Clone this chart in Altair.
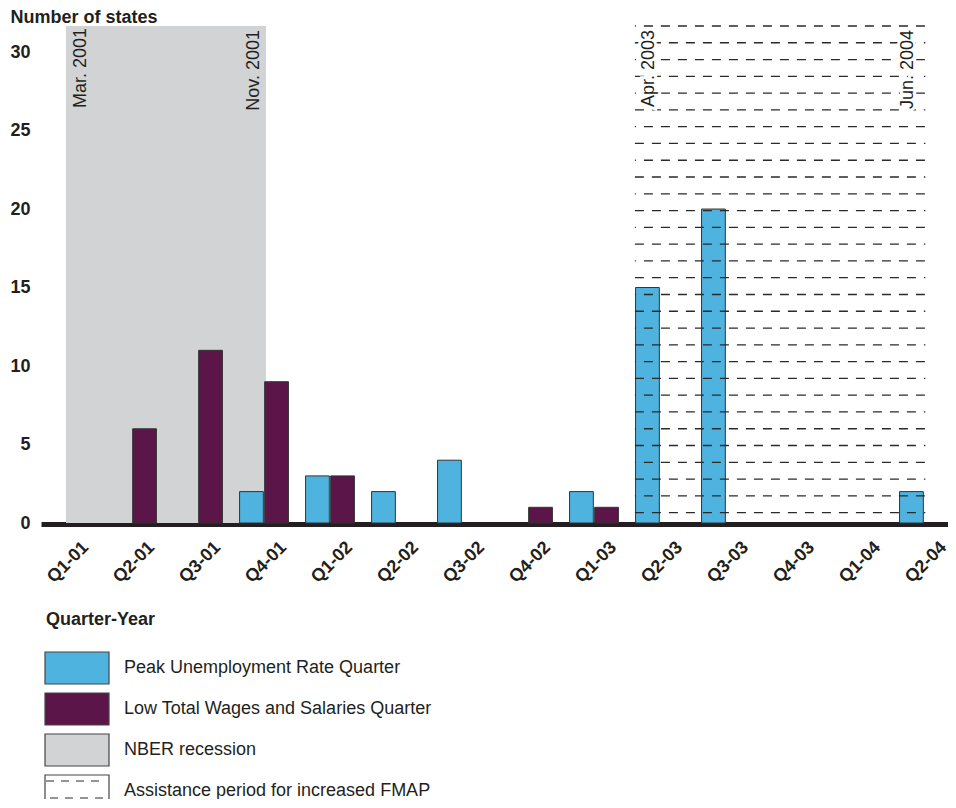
import json
import altair as alt
import pandas as pd

# ---------------- data ----------------
quarters = ["Q1-01", "Q2-01", "Q3-01", "Q4-01", "Q1-02", "Q2-02", "Q3-02",
            "Q4-02", "Q1-03", "Q2-03", "Q3-03", "Q4-03", "Q1-04", "Q2-04"]
peak_unemployment = [0, 0, 0, 2, 3, 2, 4, 0, 2, 15, 20, 0, 0, 2]
low_wages = [0, 6, 11, 9, 3, 0, 0, 1, 1, 0, 0, 0, 0, 0]

series_names = ["Peak Unemployment Rate Quarter", "Low Total Wages and Salaries Quarter"]
series_colors = ["#4fb3e0", "#5b1548"]

# periods in quarter-index units (Q1-01 = 0)
recession_span = [0.0, 3.03]
recession_labels = ["Mar. 2001", "Nov. 2001"]
assistance_span = [8.62, 13.02]
assistance_labels = ["Apr. 2003", "Jun. 2004"]

legend_title = "Quarter-Year"
legend_labels = ["Peak Unemployment Rate Quarter", "Low Total Wages and Salaries Quarter",
                 "NBER recession", "Assistance period for increased FMAP"]
legend_fills = ["#4fb3e0", "#5b1548", "#d1d3d4", "#ffffff"]

y_title = "Number of states"
y_ticks = [0, 5, 10, 15, 20, 25, 30]

# ---------------- layout ----------------
W, H = 907, 497
YMAX = 31.66
FONT = "Liberation Sans"
INK = "#231f20"

# bars
rows = []
for i, q in enumerate(quarters):
    for name, vals, lo, hi in [(series_names[0], peak_unemployment, -0.37, -0.01),
                               (series_names[1], low_wages, 0.01, 0.37)]:
        if vals[i] > 0:
            rows.append(dict(quarter=q, series=name, value=vals[i], x0=i + lo, x1=i + hi))
bars_df = pd.DataFrame(rows)

xscale = alt.Scale(domain=[-0.379, 13.364], nice=False, zero=False)
yscale = alt.Scale(domain=[0, YMAX], nice=False)
label_array = json.dumps(quarters)
xaxis = alt.Axis(values=list(range(len(quarters))), labelExpr=f"{label_array}[datum.value]",
                 title=None, grid=False, ticks=False, tickSize=0, domainColor=INK, domainWidth=5,
                 labelAngle=-45, labelAlign="right", labelBaseline="top", labelOffset=13,
                 labelPadding=14, labelFont=FONT, labelFontSize=18, labelFontWeight="bold",
                 labelColor=INK, offset=1)
yaxis = alt.Axis(values=y_ticks, title=y_title, grid=False, ticks=False, tickSize=0, domain=False,
                 labelFont=FONT, labelFontSize=18, labelFontWeight="bold", labelColor=INK,
                 labelPadding=11, titleAngle=0, titleAlign="left", titleBaseline="alphabetic",
                 titleX=-31, titleY=-4, titleFont=FONT, titleFontSize=18, titleFontWeight="bold",
                 titleColor=INK)

recession_df = pd.DataFrame({"start": [recession_span[0]], "end": [recession_span[1]]})
recession = alt.Chart(recession_df).mark_rect(fill="#d1d3d4").encode(
    x=alt.X("start:Q", scale=xscale, axis=xaxis),
    x2="end:Q",
    y=alt.value(0),
    y2=alt.value(H),
)

bars = alt.Chart(bars_df).mark_rect(stroke="#333333", strokeWidth=1).encode(
    x=alt.X("x0:Q", scale=xscale, axis=xaxis),
    x2="x1:Q",
    y=alt.Y("value:Q", scale=yscale, axis=yaxis),
    y2=alt.datum(0),
    fill=alt.Fill("series:N", scale=alt.Scale(domain=series_names, range=series_colors), legend=None),
)

# hatch lines for the assistance period
n_lines = 30
first, step = 0.66, 1.069
hatch_df = pd.DataFrame({
    "y": [first + k * step for k in range(n_lines)],
    "parity": [k % 2 for k in range(n_lines)],
    "start": assistance_span[0],
    "end": assistance_span[1],
})
hatch_layers = []
for p, off in [(0, 0), (1, 8)]:
    hatch_layers.append(
        alt.Chart(hatch_df).transform_filter(f"datum.parity == {p}")
        .mark_rule(stroke="#2a2a2a", strokeWidth=1.3, strokeDash=[9, 8], strokeDashOffset=off)
        .encode(x=alt.X("start:Q", scale=xscale, axis=xaxis), x2="end:Q",
                y=alt.Y("y:Q", scale=yscale, axis=yaxis))
    )

# period annotations
ann_specs = [
    (recession_labels[0], recession_span[0], "top", 6, -2, False),
    (recession_labels[1], recession_span[1], "alphabetic", -7, -4, False),
    (assistance_labels[0], assistance_span[0], "top", 5, -4, True),
    (assistance_labels[1], assistance_span[1], "alphabetic", -12, -4, True),
]
ann_layers = []
for label, pos, base, dy, dx, halo in ann_specs:
    adf = pd.DataFrame({"label": [label], "pos": [pos]})
    enc = dict(x=alt.X("pos:Q", scale=xscale, axis=xaxis), y=alt.value(0), text="label:N")
    if halo:
        ann_layers.append(alt.Chart(adf).mark_text(
            angle=270, align="right", baseline=base, dx=dx, dy=dy, font=FONT, fontSize=18,
            fill="white", stroke="white", strokeWidth=6).encode(**enc))
    ann_layers.append(alt.Chart(adf).mark_text(
        angle=270, align="right", baseline=base, dx=dx, dy=dy, font=FONT, fontSize=18,
        color=INK).encode(**enc))

# legend (pixel positions relative to plot origin)
LX0, LBW, LBH, LY0, LSTEP, LTX = 4, 64, 32, 626, 41, 83
leg_df = pd.DataFrame({
    "label": legend_labels,
    "fill": legend_fills,
    "row": list(range(len(legend_labels))),
})
leg_df["bx0"] = LX0
leg_df["bx1"] = LX0 + LBW
leg_df["by0"] = LY0 + leg_df["row"] * LSTEP
leg_df["by1"] = leg_df["by0"] + LBH
leg_df["ty"] = leg_df["by0"] + LBH / 2
leg_df["tx"] = LTX

leg_boxes = alt.Chart(leg_df).mark_rect(stroke="#444444", strokeWidth=1.2).encode(
    x=alt.X("bx0:Q", scale=None), x2="bx1:Q",
    y=alt.Y("by0:Q", scale=None), y2="by1:Q",
    fill=alt.Fill("fill:N", scale=None),
)
leg_text = alt.Chart(leg_df).mark_text(align="left", baseline="middle", font=FONT,
                                       fontSize=18, color=INK).encode(
    x=alt.X("tx:Q", scale=None), y=alt.Y("ty:Q", scale=None), text="label:N")

title_df = pd.DataFrame({"label": [legend_title], "tx": [5], "ty": [594]})
leg_title = alt.Chart(title_df).mark_text(align="left", baseline="middle", font=FONT,
                                          fontSize=18, fontWeight="bold", color=INK).encode(
    x=alt.X("tx:Q", scale=None), y=alt.Y("ty:Q", scale=None), text="label:N")

fmap_row = len(legend_labels) - 1
dash_df = pd.DataFrame({
    "x0": [LX0 + 1, LX0 + 5],
    "x1": [LX0 + LBW - 8, LX0 + LBW],
    "y": [LY0 + fmap_row * LSTEP + 6, LY0 + fmap_row * LSTEP + 23],
    "k": [0, 1],
})
leg_dash = []
for k in [0, 1]:
    leg_dash.append(alt.Chart(dash_df).transform_filter(f"datum.k == {k}")
                    .mark_rule(stroke="#2a2a2a", strokeWidth=1.2, strokeDash=[8, 7])
                    .encode(x=alt.X("x0:Q", scale=None), x2="x1:Q", y=alt.Y("y:Q", scale=None)))

chart = alt.layer(
    recession, bars, *hatch_layers, *ann_layers, leg_boxes, *leg_dash, leg_text, leg_title
).properties(
    width=W, height=H,
    autosize=alt.AutoSizeParams(type="none"),
    padding={"left": 33, "top": 18, "right": 0, "bottom": 276},
    background="white",
).configure_view(stroke=None)

chart.save("out.html", embed_options={"renderer": "svg", "actions": False})
